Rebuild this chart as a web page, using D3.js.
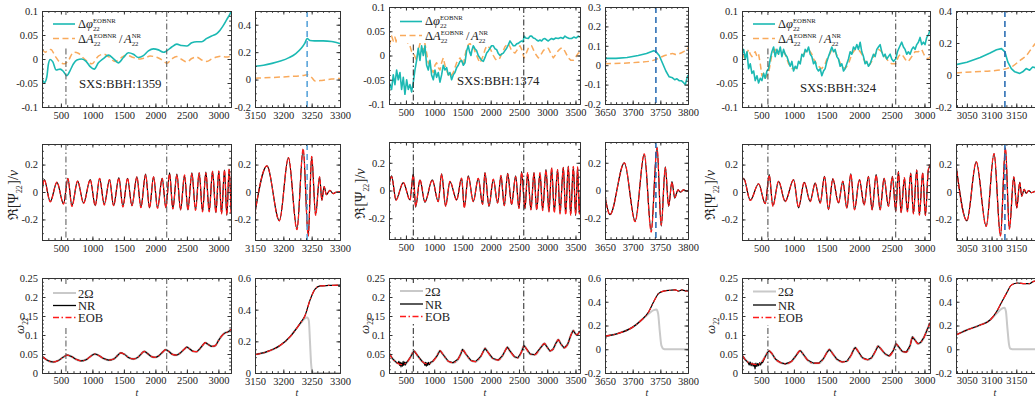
<!DOCTYPE html>
<html><head><meta charset="utf-8">
<script src="https://cdn.jsdelivr.net/npm/d3@7"></script>
<style>
body{margin:0;background:#fff}
svg{display:block}
text{font-family:"Liberation Serif","DejaVu Serif",serif;fill:#222}
</style>
</head><body>
<svg id="chart" width="1035" height="398"></svg>
<script>
// ================= DATA =================
const simNames = ['SXS:BBH:1359', 'SXS:BBH:1374', 'SXS:BBH:324'];
const legendOmega = ['2Ω', 'NR', 'EOB'];

// tick labels
const ticksWide1359 = [500, 1000, 1500, 2000, 2500, 3000];
const ticksWide1374 = [500, 1000, 1500, 2000, 2500, 3000, 3500];
const ticksWide324 = [500, 1000, 1500, 2000, 2500, 3000];
const ticksZoom1359 = [3150, 3200, 3250, 3300];
const ticksZoom1374 = [3650, 3700, 3750, 3800];
const ticksZoom324 = [3050, 3100, 3150];
const yTicksDiff = [-0.1, -0.05, 0, 0.05, 0.1];
const yTicksDiffZoom1359 = [-0.2, 0, 0.2, 0.4];
const yTicksDiffZoom1374 = [-0.2, -0.1, 0, 0.1, 0.2, 0.3];
const yTicksDiffZoom324 = [-0.2, 0, 0.2, 0.4];
const yTicksWave = [-0.2, 0, 0.2];
const yTicksOmega = [0, 0.05, 0.1, 0.15, 0.2, 0.25];
const yTicksOmegaZoom1359 = [0, 0.2, 0.4, 0.6];
const yTicksOmegaZoom = [-0.2, 0, 0.2, 0.4, 0.6];

// vertical marker times (dash-dot) and merger peak times (blue dashed)
const marks1359 = [580, 2180];
const marks1374 = [630, 2585];
const marks324 = [602, 2560];
const peak1359 = 3242, peak1374 = 3742, peak324 = 3127;

// ---- SXS:BBH:1359 ----
const dphi1359 = [[204,-0.043],[214,-0.045],[240,-0.049],[277,-0.037],[300,-0.012],[330,-0.001],[372,-0.006],[425,-0.023],[488,-0.021],[540,-0.026],[593,-0.035],[646,-0.024],[700,-0.01],[755,-0.002],[830,0.0],[900,-0.005],[965,-0.016],[1030,-0.021],[1095,-0.008],[1175,0.001],[1254,0.008],[1333,0.001],[1413,-0.008],[1492,0.003],[1571,0.013],[1651,0.01],[1730,0.003],[1810,0.007],[1889,0.017],[1968,0.021],[2048,0.019],[2127,0.014],[2180,0.017],[2259,0.025],[2339,0.031],[2418,0.028],[2497,0.027],[2577,0.034],[2656,0.036],[2735,0.036],[2815,0.043],[2894,0.048],[2974,0.053],[3026,0.06],[3079,0.07],[3132,0.082],[3185,0.094],[3200,0.098]];
const dA1359 = [[204,0.02],[250,0.014],[300,0.018],[340,0.02],[410,0.006],[478,-0.006],[560,-0.01],[620,-0.003],[700,0.014],[777,0.012],[857,0.002],[990,-0.01],[1095,0.006],[1180,0.01],[1254,0.005],[1360,-0.005],[1450,0.002],[1545,0.008],[1651,0.003],[1760,0.0],[1830,0.002],[1918,0.006],[2048,0.002],[2127,-0.004],[2180,-0.009],[2259,0.0],[2340,0.005],[2418,-0.001],[2500,-0.006],[2577,0.001],[2656,0.004],[2735,-0.002],[2815,-0.005],[2894,0.0],[2974,0.004],[3053,0.006],[3120,0.004],[3200,0.006]];
const dphiZoom1359 = [[3150,0.097],[3165,0.105],[3180,0.118],[3195,0.135],[3210,0.16],[3222,0.19],[3232,0.23],[3238,0.265],[3242,0.3],[3247,0.285],[3255,0.282],[3270,0.282],[3285,0.278],[3295,0.268],[3305,0.258]];
const dAZoom1359 = [[3150,0.01],[3180,0.015],[3210,0.022],[3235,0.03],[3242,0.035],[3250,0.015],[3256,-0.01],[3268,-0.006],[3280,0.0],[3295,0.008],[3305,0.006]];
// [t, NR, EOB]
const wave1359 = [[200,0.0,0.0],[236,0.09,0.088],[331,-0.07,-0.072],[437,0.07,0.072],[542,-0.085,-0.088],[611,0.1,0.097],[675,-0.1,-0.105],[765,0.08,0.08],[860,-0.08,-0.082],[966,0.09,0.088],[1045,-0.1,-0.1],[1114,0.1,0.1],[1188,-0.09,-0.095],[1272,0.09,0.09],[1336,-0.1,-0.1],[1420,0.105,0.1],[1484,-0.105,-0.11],[1558,0.1,0.1],[1627,-0.1,-0.1],[1706,0.11,0.11],[1770,-0.11,-0.115],[1844,0.13,0.125],[1907,-0.115,-0.115],[1971,0.11,0.11],[2034,-0.115,-0.12],[2108,0.1,0.1],[2166,-0.115,-0.115],[2225,0.14,0.13],[2277,-0.12,-0.125],[2341,0.13,0.125],[2399,-0.13,-0.13],[2463,0.12,0.125],[2516,-0.13,-0.13],[2579,0.14,0.135],[2637,-0.13,-0.135],[2695,0.14,0.14],[2748,-0.14,-0.145],[2801,0.145,0.14],[2854,-0.14,-0.145],[2907,0.15,0.15],[2960,-0.15,-0.15],[3007,0.15,0.155],[3050,-0.155,-0.16],[3097,0.16,0.16],[3134,-0.17,-0.165],[3171,0.165,0.17],[3200,-0.13,-0.17]];
const waveZoom1359 = [[3150,-0.15,-0.15],[3171,0.19,0.19],[3193,-0.21,-0.21],[3209,0.25,0.25],[3224,-0.27,-0.275],[3235,0.31,0.315],[3244,-0.32,-0.32],[3250,0.26,0.26],[3257,-0.165,-0.17],[3264,0.11,0.11],[3268,-0.06,-0.06],[3272,0.04,0.04],[3276,-0.02,-0.02],[3282,0.012,0.012],[3288,-0.012,-0.012],[3294,0.0,0.0],[3305,0.002,0.002]];
const omega1359 = [[200,0.044],[300,0.032],[380,0.029],[460,0.033],[540,0.042],[600,0.047],[660,0.044],[740,0.036],[820,0.032],[900,0.035],[980,0.045],[1040,0.05],[1100,0.046],[1180,0.038],[1260,0.034],[1340,0.037],[1400,0.046],[1450,0.053],[1510,0.049],[1580,0.04],[1650,0.037],[1720,0.041],[1780,0.051],[1820,0.057],[1870,0.052],[1940,0.043],[2000,0.041],[2060,0.046],[2120,0.056],[2160,0.061],[2210,0.057],[2270,0.049],[2330,0.047],[2390,0.052],[2460,0.063],[2500,0.068],[2540,0.064],[2600,0.057],[2650,0.056],[2700,0.063],[2760,0.075],[2790,0.08],[2830,0.076],[2900,0.07],[2950,0.072],[3000,0.085],[3050,0.097],[3100,0.105],[3150,0.108],[3200,0.115]];
const omegaZoom1359 = [[3150,0.116],[3170,0.133],[3194,0.173],[3212,0.23],[3226,0.295],[3232,0.326],[3238,0.36],[3247,0.46],[3256,0.53],[3265,0.55],[3280,0.553],[3305,0.556]];
const twoOmegaZoom1359 = [[3150,0.116],[3170,0.133],[3194,0.173],[3212,0.23],[3226,0.295],[3232,0.32],[3238,0.345],[3242,0.35],[3245,0.33],[3247,0.2],[3249,0.06],[3251,0.01],[3254,0.0],[3305,0.0]];

// ---- SXS:BBH:1374 ----
const dphi1374 = [[200,-0.055],[217,-0.06],[246,-0.07],[276,-0.04],[305,-0.06],[335,-0.03],[364,-0.05],[394,-0.035],[423,-0.07],[453,-0.045],[482,-0.08],[512,-0.05],[541,-0.07],[571,-0.06],[600,-0.075],[630,-0.055],[659,-0.03],[689,-0.01],[718,0.015],[748,-0.01],[777,0.02],[807,0.0],[836,0.02],[866,-0.02],[895,-0.03],[925,-0.01],[954,-0.04],[984,-0.05],[1013,-0.03],[1043,-0.045],[1072,-0.035],[1102,-0.055],[1131,-0.04],[1161,-0.02],[1190,-0.03],[1220,-0.025],[1249,-0.04],[1278,-0.035],[1308,-0.05],[1337,-0.04],[1367,-0.035],[1397,-0.025],[1426,-0.02],[1456,-0.012],[1485,-0.01],[1515,-0.02],[1544,-0.015],[1574,0.01],[1603,0.02],[1625,0.008],[1650,0.0],[1670,0.012],[1692,0.02],[1720,0.014],[1751,0.01],[1780,0.0],[1810,-0.005],[1840,-0.01],[1869,-0.012],[1900,-0.004],[1928,0.005],[1960,0.01],[1987,0.015],[2015,0.02],[2046,0.02],[2075,0.014],[2105,0.012],[2135,0.004],[2164,0.0],[2195,0.003],[2223,0.005],[2252,0.01],[2282,0.015],[2311,0.022],[2341,0.03],[2370,0.025],[2400,0.02],[2429,0.02],[2460,0.024],[2488,0.025],[2520,0.028],[2547,0.03],[2575,0.028],[2589,0.04],[2620,0.036],[2665,0.035],[2695,0.04],[2724,0.04],[2755,0.036],[2783,0.035],[2812,0.032],[2842,0.03],[2872,0.032],[2901,0.03],[2930,0.034],[2960,0.035],[2990,0.032],[3019,0.03],[3050,0.033],[3078,0.035],[3110,0.033],[3150,0.036],[3196,0.035],[3240,0.037],[3280,0.035],[3314,0.04],[3350,0.037],[3390,0.035],[3432,0.035],[3470,0.038],[3510,0.036],[3550,0.04],[3580,0.038]];
const dA1374 = [[200,0.02],[217,0.025],[246,0.04],[276,0.03],[305,0.038],[335,0.025],[364,0.04],[394,0.03],[423,0.041],[453,0.03],[482,0.04],[512,0.035],[541,0.022],[571,0.02],[600,0.008],[630,0.005],[659,-0.002],[689,-0.01],[718,0.01],[748,0.025],[777,0.015],[807,0.01],[836,0.025],[866,0.005],[895,-0.015],[925,-0.02],[954,-0.03],[984,-0.035],[1013,-0.02],[1043,-0.015],[1072,-0.025],[1102,-0.03],[1131,-0.015],[1161,-0.005],[1190,-0.02],[1220,-0.03],[1249,-0.04],[1279,-0.045],[1308,-0.04],[1338,-0.035],[1367,-0.025],[1397,-0.015],[1426,-0.01],[1456,-0.005],[1485,-0.012],[1515,-0.02],[1545,0.0],[1574,0.015],[1603,0.022],[1633,0.025],[1662,0.02],[1692,0.02],[1721,0.008],[1751,0.0],[1780,-0.008],[1810,-0.015],[1840,-0.008],[1869,0.0],[1898,0.012],[1928,0.02],[1957,0.018],[1987,0.015],[2016,0.008],[2046,0.0],[2075,-0.006],[2105,-0.01],[2134,-0.008],[2164,-0.005],[2193,0.004],[2223,0.01],[2252,0.018],[2282,0.022],[2311,0.025],[2340,0.018],[2370,0.01],[2400,0.007],[2429,0.005],[2460,0.01],[2488,0.016],[2518,0.02],[2550,0.012],[2589,-0.005],[2620,0.002],[2665,0.015],[2700,0.02],[2724,0.02],[2755,0.012],[2783,0.005],[2812,0.0],[2842,-0.005],[2880,0.0],[2931,0.01],[2975,0.015],[3019,0.015],[3060,0.005],[3108,-0.005],[3150,0.002],[3196,0.01],[3240,0.015],[3284,0.015],[3330,0.005],[3373,-0.005],[3420,-0.01],[3461,-0.01],[3510,-0.002],[3550,0.005],[3580,0.006]];
const dphiZoom1374 = [[3650,0.035],[3670,0.035],[3690,0.04],[3710,0.05],[3725,0.06],[3738,0.075],[3742,0.07],[3748,0.05],[3754,0.01],[3760,-0.03],[3766,-0.06],[3772,-0.065],[3776,-0.075],[3780,-0.07],[3784,-0.08],[3788,-0.08],[3792,-0.09],[3795,-0.1],[3798,-0.07],[3800,-0.05]];
const dAZoom1374 = [[3650,0.008],[3680,0.01],[3710,0.015],[3730,0.02],[3742,0.03],[3750,0.04],[3758,0.05],[3765,0.055],[3772,0.06],[3778,0.055],[3785,0.06],[3792,0.07],[3797,0.08],[3800,0.09]];
const wave1374 = [[200,0.04,0.04],[246,0.105,0.1],[323,-0.067,-0.07],[453,0.057,0.057],[571,-0.067,-0.07],[630,0.124,0.11],[671,-0.12,-0.115],[748,0.076,0.078],[836,-0.086,-0.08],[966,0.076,0.076],[1072,-0.08,-0.08],[1131,0.12,0.118],[1202,-0.11,-0.115],[1279,0.064,0.066],[1397,-0.067,-0.07],[1485,0.088,0.09],[1532,-0.12,-0.125],[1603,0.105,0.1],[1692,-0.08,-0.08],[1780,0.088,0.088],[1857,-0.1,-0.1],[1898,0.13,0.125],[1969,-0.115,-0.11],[2046,0.08,0.082],[2122,-0.09,-0.09],[2181,0.105,0.11],[2240,-0.11,-0.11],[2300,0.124,0.12],[2370,-0.1,-0.1],[2441,0.105,0.1],[2500,-0.126,-0.13],[2547,0.136,0.13],[2606,-0.133,-0.125],[2653,0.124,0.13],[2712,-0.138,-0.14],[2766,0.13,0.125],[2813,-0.138,-0.14],[2872,0.124,0.13],[2919,-0.14,-0.145],[2978,0.15,0.145],[3031,-0.15,-0.155],[3078,0.16,0.165],[3125,-0.15,-0.16],[3184,0.15,0.15],[3226,-0.16,-0.17],[3285,0.167,0.165],[3326,-0.167,-0.175],[3373,0.176,0.17],[3415,-0.174,-0.18],[3462,0.17,0.175],[3503,-0.18,-0.175],[3538,0.167,0.17],[3568,-0.16,-0.17],[3600,0.1,0.12]];
const waveZoom1374 = [[3650,-0.043,-0.043],[3659,-0.174,-0.174],[3685,0.2,0.2],[3704.5,-0.22,-0.225],[3721,0.26,0.265],[3733.5,-0.29,-0.3],[3744,0.314,0.31],[3751.6,-0.257,-0.25],[3759,0.171,0.165],[3765,-0.114,-0.11],[3771,0.064,0.06],[3776,-0.055,-0.05],[3782,0.005,0.005],[3786,-0.012,-0.012],[3792,0.004,0.004],[3798,-0.003,-0.003],[3802,0.0,0.0]];
const omega1374 = [[200,0.053],[260,0.038],[330,0.028],[420,0.022],[510,0.027],[580,0.042],[642,0.058],[700,0.047],[790,0.03],[880,0.024],[970,0.03],[1050,0.045],[1102,0.059],[1160,0.048],[1250,0.031],[1330,0.027],[1420,0.036],[1470,0.05],[1500,0.062],[1560,0.05],[1650,0.033],[1730,0.03],[1820,0.043],[1870,0.057],[1900,0.065],[1950,0.055],[2040,0.038],[2130,0.034],[2210,0.046],[2260,0.06],[2295,0.068],[2340,0.058],[2420,0.043],[2480,0.04],[2540,0.054],[2589,0.072],[2630,0.064],[2700,0.05],[2780,0.048],[2880,0.066],[2950,0.078],[2990,0.07],[3050,0.058],[3100,0.062],[3160,0.08],[3196,0.088],[3240,0.077],[3300,0.066],[3360,0.075],[3420,0.1],[3460,0.112],[3500,0.103],[3530,0.1],[3570,0.108],[3600,0.112]];
const omegaNoiseNR1374 = [[335,0.027],[360,0.025],[375,0.031],[390,0.02],[400,0.028],[412,0.016],[425,0.027],[437,0.018],[450,0.031],[462,0.02],[478,0.029],[492,0.021],[505,0.028],[800,0.029],[820,0.026],[835,0.02],[848,0.028],[860,0.018],[872,0.027],[885,0.02],[900,0.028],[915,0.022],[935,0.028]];
const omegaZoom1374 = [[3650,0.11],[3674,0.134],[3698,0.18],[3716,0.246],[3729,0.316],[3738,0.4],[3747,0.47],[3756,0.49],[3768,0.497],[3777,0.5],[3783,0.49],[3789,0.5],[3795,0.492],[3802,0.49]];
const twoOmegaZoom1374 = [[3650,0.11],[3674,0.134],[3698,0.18],[3716,0.246],[3729,0.3],[3738,0.33],[3743,0.335],[3746,0.3],[3749,0.15],[3752,0.03],[3756,0.002],[3760,0.0],[3802,0.0]];

// ---- SXS:BBH:324 ----
const dphi324 = [[204,0.01],[230,0.02],[255,0.0],[281,0.015],[306,-0.02],[332,-0.01],[357,-0.03],[383,-0.025],[408,-0.045],[434,-0.035],[459,-0.05],[485,-0.04],[510,-0.045],[536,-0.03],[561,-0.04],[587,-0.025],[612,-0.02],[638,0.0],[663,0.015],[689,0.025],[714,0.005],[740,0.02],[765,0.01],[791,0.025],[816,0.005],[842,0.02],[867,0.01],[893,0.005],[918,-0.005],[944,-0.015],[969,-0.005],[995,-0.025],[1020,-0.015],[1046,-0.02],[1071,-0.005],[1097,-0.01],[1122,0.01],[1148,0.005],[1173,0.02],[1199,0.015],[1224,0.025],[1250,0.01],[1275,0.005],[1301,-0.01],[1326,-0.005],[1352,-0.02],[1377,-0.025],[1403,-0.02],[1428,-0.035],[1454,-0.025],[1479,-0.02],[1505,-0.005],[1530,0.005],[1556,0.015],[1581,0.025],[1607,0.015],[1632,0.02],[1658,0.005],[1683,0.0],[1709,-0.015],[1734,-0.01],[1760,-0.025],[1785,-0.02],[1811,-0.01],[1836,0.0],[1862,0.015],[1887,0.01],[1913,0.025],[1938,0.02],[1964,0.03],[1989,0.02],[2015,0.035],[2040,0.015],[2066,0.005],[2091,-0.01],[2117,-0.005],[2142,-0.015],[2168,-0.01],[2193,0.0],[2219,0.01],[2244,0.005],[2270,0.02],[2295,0.025],[2321,0.03],[2346,0.015],[2372,0.005],[2397,0.01],[2423,0.0],[2448,0.005],[2474,0.01],[2499,0.0],[2525,-0.005],[2560,0.0],[2586,0.015],[2617,0.025],[2652,0.035],[2678,0.025],[2703,0.02],[2729,0.01],[2754,0.015],[2780,0.01],[2805,0.02],[2831,0.025],[2856,0.02],[2882,0.03],[2907,0.035],[2933,0.045],[2958,0.03],[2984,0.035],[3009,0.03],[3035,0.045],[3060,0.05],[3086,0.06]];
const dA324 = [[204,0.01],[230,0.005],[255,0.0],[281,0.012],[306,0.02],[332,0.01],[357,0.005],[383,0.012],[408,0.015],[434,0.005],[459,0.01],[485,-0.01],[510,-0.035],[536,-0.03],[561,-0.04],[587,-0.035],[612,-0.03],[638,-0.01],[663,0.01],[689,0.015],[714,0.02],[740,0.01],[765,0.015],[791,0.02],[816,0.02],[842,0.015],[867,0.01],[893,0.0],[918,-0.01],[944,-0.015],[969,-0.02],[995,-0.02],[1020,-0.02],[1046,-0.015],[1071,-0.01],[1097,-0.005],[1122,0.005],[1148,0.01],[1173,0.015],[1199,0.018],[1224,0.02],[1250,0.015],[1275,0.01],[1301,0.0],[1326,-0.005],[1352,-0.012],[1377,-0.015],[1403,-0.018],[1428,-0.02],[1454,-0.015],[1479,-0.01],[1505,0.0],[1530,0.005],[1556,0.012],[1581,0.02],[1607,0.018],[1632,0.015],[1658,0.008],[1683,0.0],[1709,-0.008],[1734,-0.015],[1760,-0.018],[1785,-0.02],[1811,-0.015],[1836,-0.01],[1862,0.0],[1887,0.01],[1913,0.015],[1938,0.02],[1964,0.02],[1989,0.02],[2015,0.015],[2040,0.01],[2066,0.0],[2091,-0.005],[2117,-0.01],[2142,-0.015],[2168,-0.01],[2193,-0.005],[2219,0.005],[2244,0.01],[2270,0.015],[2295,0.02],[2321,0.018],[2346,0.015],[2372,0.01],[2397,0.005],[2423,0.0],[2448,-0.005],[2474,-0.008],[2499,-0.01],[2530,-0.01],[2560,-0.01],[2601,0.005],[2630,0.01],[2652,0.01],[2680,0.005],[2703,0.0],[2730,-0.005],[2754,-0.005],[2780,0.0],[2805,0.005],[2830,0.01],[2856,0.015],[2880,0.015],[2907,0.015],[2933,0.018],[2958,0.02],[2984,0.012],[3009,0.005],[3035,0.002],[3060,0.0],[3086,0.005]];
const dphiZoom324 = [[3028,0.065],[3050,0.08],[3077,0.11],[3097,0.138],[3110,0.158],[3120,0.165],[3127,0.145],[3133,0.08],[3140,0.04],[3147,0.02],[3157,0.01],[3163,0.02],[3170,0.04],[3177,0.03],[3183,0.05],[3190,0.045],[3198,0.05]];
const dAZoom324 = [[3028,0.012],[3063,0.02],[3097,0.025],[3130,0.04],[3143,0.055],[3157,0.09],[3170,0.12],[3183,0.175],[3198,0.23]];
const wave324 = [[200,0.07,0.07],[230,0.1,0.1],[332,-0.06,-0.062],[459,0.06,0.06],[561,-0.085,-0.085],[622,0.126,0.12],[678,-0.1,-0.105],[765,0.078,0.078],[867,-0.068,-0.07],[995,0.09,0.088],[1071,-0.116,-0.11],[1158,0.07,0.072],[1250,-0.068,-0.07],[1326,0.065,0.065],[1403,-0.08,-0.082],[1469,0.114,0.11],[1530,-0.128,-0.125],[1596,0.095,0.095],[1683,-0.08,-0.08],[1750,0.078,0.08],[1811,-0.116,-0.116],[1872,0.133,0.13],[1928,-0.128,-0.13],[2004,0.09,0.09],[2076,-0.092,-0.095],[2142,0.114,0.11],[2198,-0.128,-0.13],[2260,0.126,0.12],[2321,-0.128,-0.13],[2382,0.1,0.1],[2448,-0.104,-0.105],[2509,0.114,0.11],[2560,-0.14,-0.14],[2601,0.15,0.145],[2642,-0.148,-0.15],[2693,0.1,0.105],[2739,-0.14,-0.145],[2790,0.138,0.135],[2831,-0.157,-0.16],[2882,0.162,0.16],[2922,-0.165,-0.17],[2973,0.138,0.14],[3014,-0.172,-0.17],[3060,0.162,0.165],[3086,0.19,0.2]];
const waveZoom324 = [[3028,0.2,0.2],[3050,-0.21,-0.21],[3069,0.22,0.22],[3089,-0.25,-0.25],[3105,0.28,0.28],[3118,-0.32,-0.32],[3128,0.32,0.32],[3136,-0.27,-0.27],[3145,0.11,0.11],[3151,-0.116,-0.116],[3157,0.07,0.07],[3161,-0.03,-0.03],[3166,0.02,0.02],[3170,-0.01,-0.01],[3175,0.01,0.01],[3181,-0.005,-0.005],[3188,0.005,0.005],[3200,0.0,0.0]];
const omega324 = [[204,0.048],[250,0.036],[300,0.028],[360,0.024],[434,0.022],[500,0.027],[560,0.043],[600,0.055],[622,0.058],[660,0.052],[720,0.036],[800,0.027],[870,0.024],[960,0.03],[1030,0.045],[1080,0.057],[1100,0.059],[1140,0.05],[1210,0.034],[1300,0.026],[1380,0.026],[1450,0.037],[1510,0.055],[1545,0.062],[1590,0.052],[1660,0.036],[1740,0.029],[1810,0.031],[1880,0.048],[1920,0.063],[1940,0.067],[1980,0.058],[2050,0.04],[2130,0.035],[2190,0.04],[2250,0.058],[2290,0.071],[2330,0.064],[2400,0.05],[2460,0.045],[2520,0.058],[2565,0.077],[2600,0.07],[2660,0.057],[2720,0.055],[2780,0.072],[2815,0.095],[2850,0.088],[2900,0.077],[2940,0.08],[2990,0.093],[3040,0.113],[3086,0.132]];
const omegaNoiseNR324 = [[300,0.027],[315,0.021],[330,0.029],[345,0.019],[360,0.026],[375,0.018],[390,0.024],[405,0.011],[418,0.026],[432,0.017],[446,0.025],[460,0.019],[475,0.027],[490,0.021],[505,0.028],[520,0.027]];
const omegaZoom324 = [[3028,0.12],[3050,0.162],[3077,0.204],[3097,0.246],[3110,0.316],[3120,0.394],[3130,0.47],[3140,0.54],[3153,0.558],[3167,0.553],[3177,0.553],[3183,0.567],[3200,0.58]];
const twoOmegaZoom324 = [[3028,0.12],[3050,0.162],[3077,0.204],[3097,0.246],[3110,0.3],[3120,0.34],[3126,0.35],[3129,0.32],[3132,0.18],[3135,0.05],[3138,0.005],[3142,0.0],[3200,0.0]];

// ================= LAYOUT / STYLE =================
const C_TEAL = '#1bb9b3', C_ORANGE = '#f9aa5c', C_RED = '#ff1a1a', C_GRAY = '#c9c9c9';
const svg = d3.select('#chart');
let clipN = 0;
const fmt = v => String(+(+v).toFixed(3));

function makePanel(xr, yr, xd, yd, pad) {
  const x = d3.scaleLinear().domain(xd).range(xr);
  const y = d3.scaleLinear().domain(yd).range([yr[1], yr[0]]);
  const id = 'clip' + (clipN++);
  svg.append('clipPath').attr('id', id).append('rect')
    .attr('x', xr[0]).attr('y', yr[0]).attr('width', xr[1] - xr[0]).attr('height', yr[1] - yr[0]);
  const plot = svg.append('g').attr('clip-path', `url(#${id})`);
  return {x, y, xr, yr, plot, pad: pad || 5};
}
function range(a, b, s) { const out = []; for (let v = a; v <= b + 1e-9; v += s) out.push(+v.toFixed(6)); return out; }
function drawAxes(p, xt, xm, yt, ym) {
  const g = svg.append('g');
  const [x0, x1] = p.xr, [y0, y1] = p.yr;
  const add = (gen, tr) => g.append('g').attr('transform', tr).call(gen);
  const xMin = range(xm[0], xm[1], xm[2]).filter(v => v >= p.x.domain()[0] && v <= p.x.domain()[1]);
  const yMin = range(ym[0], ym[1], ym[2]).filter(v => v >= p.y.domain()[0] && v <= p.y.domain()[1]);
  add(d3.axisBottom(p.x).tickValues(xMin).tickSizeInner(-1.8).tickSizeOuter(0).tickFormat(''), `translate(0,${y1})`);
  add(d3.axisTop(p.x).tickValues(xMin).tickSizeInner(-1.8).tickSizeOuter(0).tickFormat(''), `translate(0,${y0})`);
  add(d3.axisLeft(p.y).tickValues(yMin).tickSizeInner(-1.8).tickSizeOuter(0).tickFormat(''), `translate(${x0},0)`);
  add(d3.axisRight(p.y).tickValues(yMin).tickSizeInner(-1.8).tickSizeOuter(0).tickFormat(''), `translate(${x1},0)`);
  add(d3.axisBottom(p.x).tickValues(xt).tickSizeInner(-3.5).tickSizeOuter(0).tickPadding(p.pad).tickFormat(fmt), `translate(0,${y1})`);
  add(d3.axisTop(p.x).tickValues(xt).tickSizeInner(-3.5).tickSizeOuter(0).tickFormat(''), `translate(0,${y0})`);
  add(d3.axisLeft(p.y).tickValues(yt).tickSizeInner(-3.5).tickSizeOuter(0).tickPadding(4).tickFormat(fmt), `translate(${x0},0)`);
  add(d3.axisRight(p.y).tickValues(yt).tickSizeInner(-3.5).tickSizeOuter(0).tickFormat(''), `translate(${x1},0)`);
  g.selectAll('path,line').attr('stroke', '#333').attr('stroke-width', 1);
  g.selectAll('text').attr('font-family', '"Liberation Serif","DejaVu Serif",serif').attr('font-size', 10.5).attr('fill', '#333');
}
function drawLine(p, data, yi, stroke, width, dash, curve) {
  const ln = d3.line().x(d => p.x(d[0])).y(d => p.y(d[yi])).curve(curve || d3.curveLinear);
  p.plot.append('path').datum(data).attr('d', ln).attr('fill', 'none')
    .attr('stroke', stroke).attr('stroke-width', width).attr('stroke-dasharray', dash || null)
    .attr('stroke-linejoin', 'round');
}
function vline(p, t, stroke, width, dash) {
  p.plot.append('line').attr('x1', p.x(t)).attr('x2', p.x(t)).attr('y1', p.yr[0]).attr('y2', p.yr[1])
    .attr('stroke', stroke).attr('stroke-width', width).attr('stroke-dasharray', dash);
}
// math-like label: normal/italic runs, subscripts, stacked sup/sub pairs and gaps (tspans of one text)
function mathText(parent, items, fs, smallRatio) {
  const grp = parent.append('g');
  const txt = grp.append('text').attr('font-size', fs);
  const small = fs * (smallRatio || 0.56);
  let cx = 0;
  const measure = (s, size, italic) => {
    const t = grp.append('text').attr('font-size', size).attr('font-style', italic ? 'italic' : null).text(s);
    const w = t.node().getComputedTextLength(); t.remove(); return w;
  };
  for (const it of items) {
    if (it.gap) { cx += it.gap; continue; }
    if (it.st) {
      const w0 = measure(it.st[0], small), w1 = measure(it.st[1], small);
      txt.append('tspan').attr('x', cx).attr('y', -fs * 0.38).attr('font-size', small).text(it.st[0]);
      txt.append('tspan').attr('x', cx).attr('y', fs * 0.27).attr('font-size', small).text(it.st[1]);
      cx += Math.max(w0, w1) + 1;
    } else if (it.sub) {
      const w = measure(it.sub, small);
      txt.append('tspan').attr('x', cx).attr('y', fs * 0.3).attr('font-size', small).text(it.sub);
      cx += w + 0.5;
    } else {
      const w = measure(it.t, fs, it.i);
      txt.append('tspan').attr('x', cx).attr('y', 0).attr('font-style', it.i ? 'italic' : null).text(it.t);
      cx += w;
    }
  }
  return {grp, w: cx};
}
function mergeNoise(base, noise) {
  const lo = noise.map(d => d[0]);
  const segs = [];
  let cur = [lo[0], lo[0]];
  for (let i = 1; i < lo.length; i++) {
    if (lo[i] - cur[1] > 150) { segs.push(cur); cur = [lo[i], lo[i]]; } else cur[1] = lo[i];
  }
  segs.push(cur);
  const kept = base.filter(d => !segs.some(s => d[0] >= s[0] && d[0] <= s[1]));
  return kept.concat(noise).sort((a, b) => a[0] - b[0]);
}

const columns = [
  { name: simNames[0], wx: [42, 231], nx: [255, 340], rows: [[11, 107], [144, 240], [278, 373]],
    wd: [200, 3200], nd: [3150, 3300], wt: ticksWide1359, nt: ticksZoom1359,
    n1d: [-0.2, 0.5], n1t: yTicksDiffZoom1359, n1m: 0.05, n3d: [0, 0.6], n3t: yTicksOmegaZoom1359, n3pad: 5,
    dphi: dphi1359, dA: dA1359, dphiZ: dphiZoom1359, dAZ: dAZoom1359, noisy: false,
    wave: wave1359, waveZ: waveZoom1359, om: omega1359, omNR: omega1359, omZ: omegaZoom1359, om2Z: twoOmegaZoom1359,
    marks: marks1359, peak: peak1359, markColor: '#555', peakColor: '#4f9fd8',
    leg1: [50, 152, 15, 46], leg1x: 53, leg1y: [24, 38.5], sxs: [79, 88],
    leg3: [52, 102, 285, 326], leg3x: 53, leg3y: [293, 305.5, 317.5],
    ylab2x: 13, ylab3x: 20, tx: [137, 297] },
  { name: simNames[1], wx: [389, 580], nx: [605, 688], rows: [[7, 104], [142, 239], [278, 373]],
    wd: [200, 3580], nd: [3650, 3800], wt: ticksWide1374, nt: ticksZoom1374,
    n1d: [-0.2, 0.3], n1t: yTicksDiffZoom1374, n1m: 0.02, n3d: [-0.2, 0.6], n3t: yTicksOmegaZoom, n3pad: 5,
    dphi: dphi1374, dA: dA1374, dphiZ: dphiZoom1374, dAZ: dAZoom1374, noisy: true,
    wave: wave1374, waveZ: waveZoom1374, om: omega1374, omNR: mergeNoise(omega1374, omegaNoiseNR1374), omZ: omegaZoom1374, om2Z: twoOmegaZoom1374,
    marks: marks1374, peak: peak1374, markColor: '#222', peakColor: '#1f66b0',
    leg1: [397, 497, 10, 43], leg1x: 400, leg1y: [21.5, 35.5], sxs: [457, 85],
    leg3: [398, 447, 283, 324], leg3x: 400, leg3y: [291, 304, 316.5],
    ylab2x: 360, ylab3x: 365, tx: [485, 647] },
  { name: simNames[2], wx: [742, 930], nx: [956, 1040], rows: [[11, 107], [144, 240], [278, 373]],
    wd: [205, 3085], nd: [3028, 3198], wt: ticksWide324, nt: ticksZoom324,
    n1d: [-0.2, 0.4], n1t: yTicksDiffZoom324, n1m: 0.05, n3d: [-0.2, 0.6], n3t: yTicksOmegaZoom, n3pad: 3.5,
    dphi: dphi324, dA: dA324, dphiZ: dphiZoom324, dAZ: dAZoom324, noisy: true,
    wave: wave324, waveZ: waveZoom324, om: omega324, omNR: mergeNoise(omega324, omegaNoiseNR324), omZ: omegaZoom324, om2Z: twoOmegaZoom324,
    marks: marks324, peak: peak324, markColor: '#444', peakColor: '#1f66b0',
    leg1: [750, 850, 15, 46], leg1x: 753, leg1y: [24, 38.5], sxs: [800, 92],
    leg3: [750, 797, 284, 325], leg3x: 753, leg3y: [291.5, 305, 317.5],
    ylab2x: 710, ylab3x: 711, tx: [835, 995] }
];

const DASHDOT = '6,2.5,1.5,2.5';
const mono = d3.curveMonotoneX;

columns.forEach(c => {
  const [r1, r2, r3] = c.rows;
  // ---------- Row 1: phase / amplitude differences ----------
  const pw1 = makePanel(c.wx, r1, c.wd, [-0.1, 0.1]);
  drawLine(pw1, c.dA, 1, C_ORANGE, 1.5, '6,3.5', c.noisy ? d3.curveLinear : mono);
  drawLine(pw1, c.dphi, 1, C_TEAL, 1.6, null, c.noisy ? d3.curveLinear : mono);
  c.marks.forEach(t => vline(pw1, t, c.markColor, 1, DASHDOT));
  svg.append('rect').attr('x', c.leg1[0]).attr('width', c.leg1[1] - c.leg1[0]).attr('y', c.leg1[2]).attr('height', c.leg1[3] - c.leg1[2]).attr('fill', '#fff');
  svg.append('line').attr('x1', c.leg1x).attr('x2', c.leg1x + 22).attr('y1', c.leg1y[0]).attr('y2', c.leg1y[0]).attr('stroke', C_TEAL).attr('stroke-width', 1.6);
  svg.append('line').attr('x1', c.leg1x).attr('x2', c.leg1x + 22).attr('y1', c.leg1y[1]).attr('y2', c.leg1y[1]).attr('stroke', C_ORANGE).attr('stroke-width', 1.5).attr('stroke-dasharray', '6,3.5');
  const l1 = mathText(svg, [{t: 'Δ'}, {t: 'φ', i: true}, {st: ['EOBNR', '22']}], 12.5, 0.54);
  l1.grp.attr('transform', `translate(${c.leg1x + 25},${c.leg1y[0] + 3.5})`);
  const l2 = mathText(svg, [{t: 'Δ'}, {t: 'A', i: true}, {st: ['EOBNR', '22']}, {gap: 1.5}, {t: '/'}, {gap: 1.5}, {t: 'A', i: true}, {st: ['NR', '22']}], 12.5, 0.54);
  l2.grp.attr('transform', `translate(${c.leg1x + 25},${c.leg1y[1] + 4})`);
  svg.append('text').attr('x', c.sxs[0]).attr('y', c.sxs[1]).attr('font-size', 12.8).text(c.name);
  drawAxes(pw1, c.wt, [100, 3600, 100], yTicksDiff, [-0.1, 0.1, 0.01]);

  const pn1 = makePanel(c.nx, r1, c.nd, c.n1d);
  drawLine(pn1, c.dAZ, 1, C_ORANGE, 1.5, '6,3.5', mono);
  drawLine(pn1, c.dphiZ, 1, C_TEAL, 1.6, null, c.noisy ? d3.curveLinear : mono);
  vline(pn1, c.peak, c.peakColor, 1.5, '6,4');
  drawAxes(pn1, c.nt, [3000, 3850, 10], c.n1t, [-0.2, 0.5, c.n1m]);

  // ---------- Row 2: waveform ----------
  const pw2 = makePanel(c.wx, r2, c.wd, [-0.35, 0.35]);
  drawLine(pw2, c.wave, 1, '#000', 1.2, null, mono);
  drawLine(pw2, c.wave, 2, C_RED, 1.2, '5,1.5', mono);
  c.marks.forEach(t => vline(pw2, t, c.markColor, 1, DASHDOT));
  drawAxes(pw2, c.wt, [100, 3600, 100], yTicksWave, [-0.35, 0.35, 0.05]);

  const pn2 = makePanel(c.nx, r2, c.nd, [-0.35, 0.35]);
  drawLine(pn2, c.waveZ, 1, '#000', 1.2, null, mono);
  drawLine(pn2, c.waveZ, 2, C_RED, 1.2, '5,1.5', mono);
  vline(pn2, c.peak, c.peakColor, 1.5, '6,4');
  drawAxes(pn2, c.nt, [3000, 3850, 10], yTicksWave, [-0.35, 0.35, 0.05]);

  const yl2 = mathText(svg, [{t: 'ℜ'}, {t: '['}, {t: 'Ψ'}, {sub: '22'}, {t: ']'}, {t: '/'}, {t: 'ν', i: true}], 14);
  yl2.grp.attr('transform', `translate(${c.ylab2x + 5},${(r2[0] + r2[1]) / 2 + 3}) rotate(-90) translate(${-yl2.w / 2},0)`);

  // ---------- Row 3: frequency ----------
  const pw3 = makePanel(c.wx, r3, c.wd, [0, 0.25], 3.5);
  drawLine(pw3, c.om, 1, C_GRAY, 2.4, null, mono);
  drawLine(pw3, c.omNR, 1, '#000', 1.1, null, c.noisy ? d3.curveLinear : mono);
  drawLine(pw3, c.om, 1, C_RED, 1.2, DASHDOT, mono);
  c.marks.forEach(t => vline(pw3, t, c.markColor, 1, DASHDOT));
  svg.append('rect').attr('x', c.leg3[0]).attr('width', c.leg3[1] - c.leg3[0]).attr('y', c.leg3[2]).attr('height', c.leg3[3] - c.leg3[2]).attr('fill', '#fff');
  const legStyles = [[C_GRAY, 2, null], ['#000', 1.3, null], [C_RED, 1.3, DASHDOT]];
  legendOmega.forEach((lab, i) => {
    svg.append('line').attr('x1', c.leg3x).attr('x2', c.leg3x + 23).attr('y1', c.leg3y[i]).attr('y2', c.leg3y[i])
      .attr('stroke', legStyles[i][0]).attr('stroke-width', legStyles[i][1]).attr('stroke-dasharray', legStyles[i][2]);
    svg.append('text').attr('x', c.leg3x + 25).attr('y', c.leg3y[i] + 4.5).attr('font-size', 12.5).text(lab);
  });
  drawAxes(pw3, c.wt, [100, 3600, 100], yTicksOmega, [0, 0.25, 0.01]);

  const pn3 = makePanel(c.nx, r3, c.nd, c.n3d, c.n3pad);
  drawLine(pn3, c.om2Z, 1, C_GRAY, 2, null, d3.curveMonotoneX);
  drawLine(pn3, c.omZ, 1, '#000', 1.2, null, mono);
  drawLine(pn3, c.omZ, 1, C_RED, 1.2, DASHDOT, mono);
  drawAxes(pn3, c.nt, [3000, 3850, 10], c.n3t, [-0.2, 0.6, 0.05]);

  const yl3 = mathText(svg, [{t: 'ω', i: true}, {sub: '22'}], 13);
  yl3.grp.attr('transform', `translate(${c.ylab3x + 4},${(r3[0] + r3[1]) / 2}) rotate(-90) translate(${-yl3.w / 2},0)`);

  c.tx.forEach(xx => svg.append('text').attr('x', xx).attr('y', 395.6).attr('font-size', 10)
    .attr('font-style', 'italic').attr('text-anchor', 'middle').text('t'));
});
</script>
</body></html>
